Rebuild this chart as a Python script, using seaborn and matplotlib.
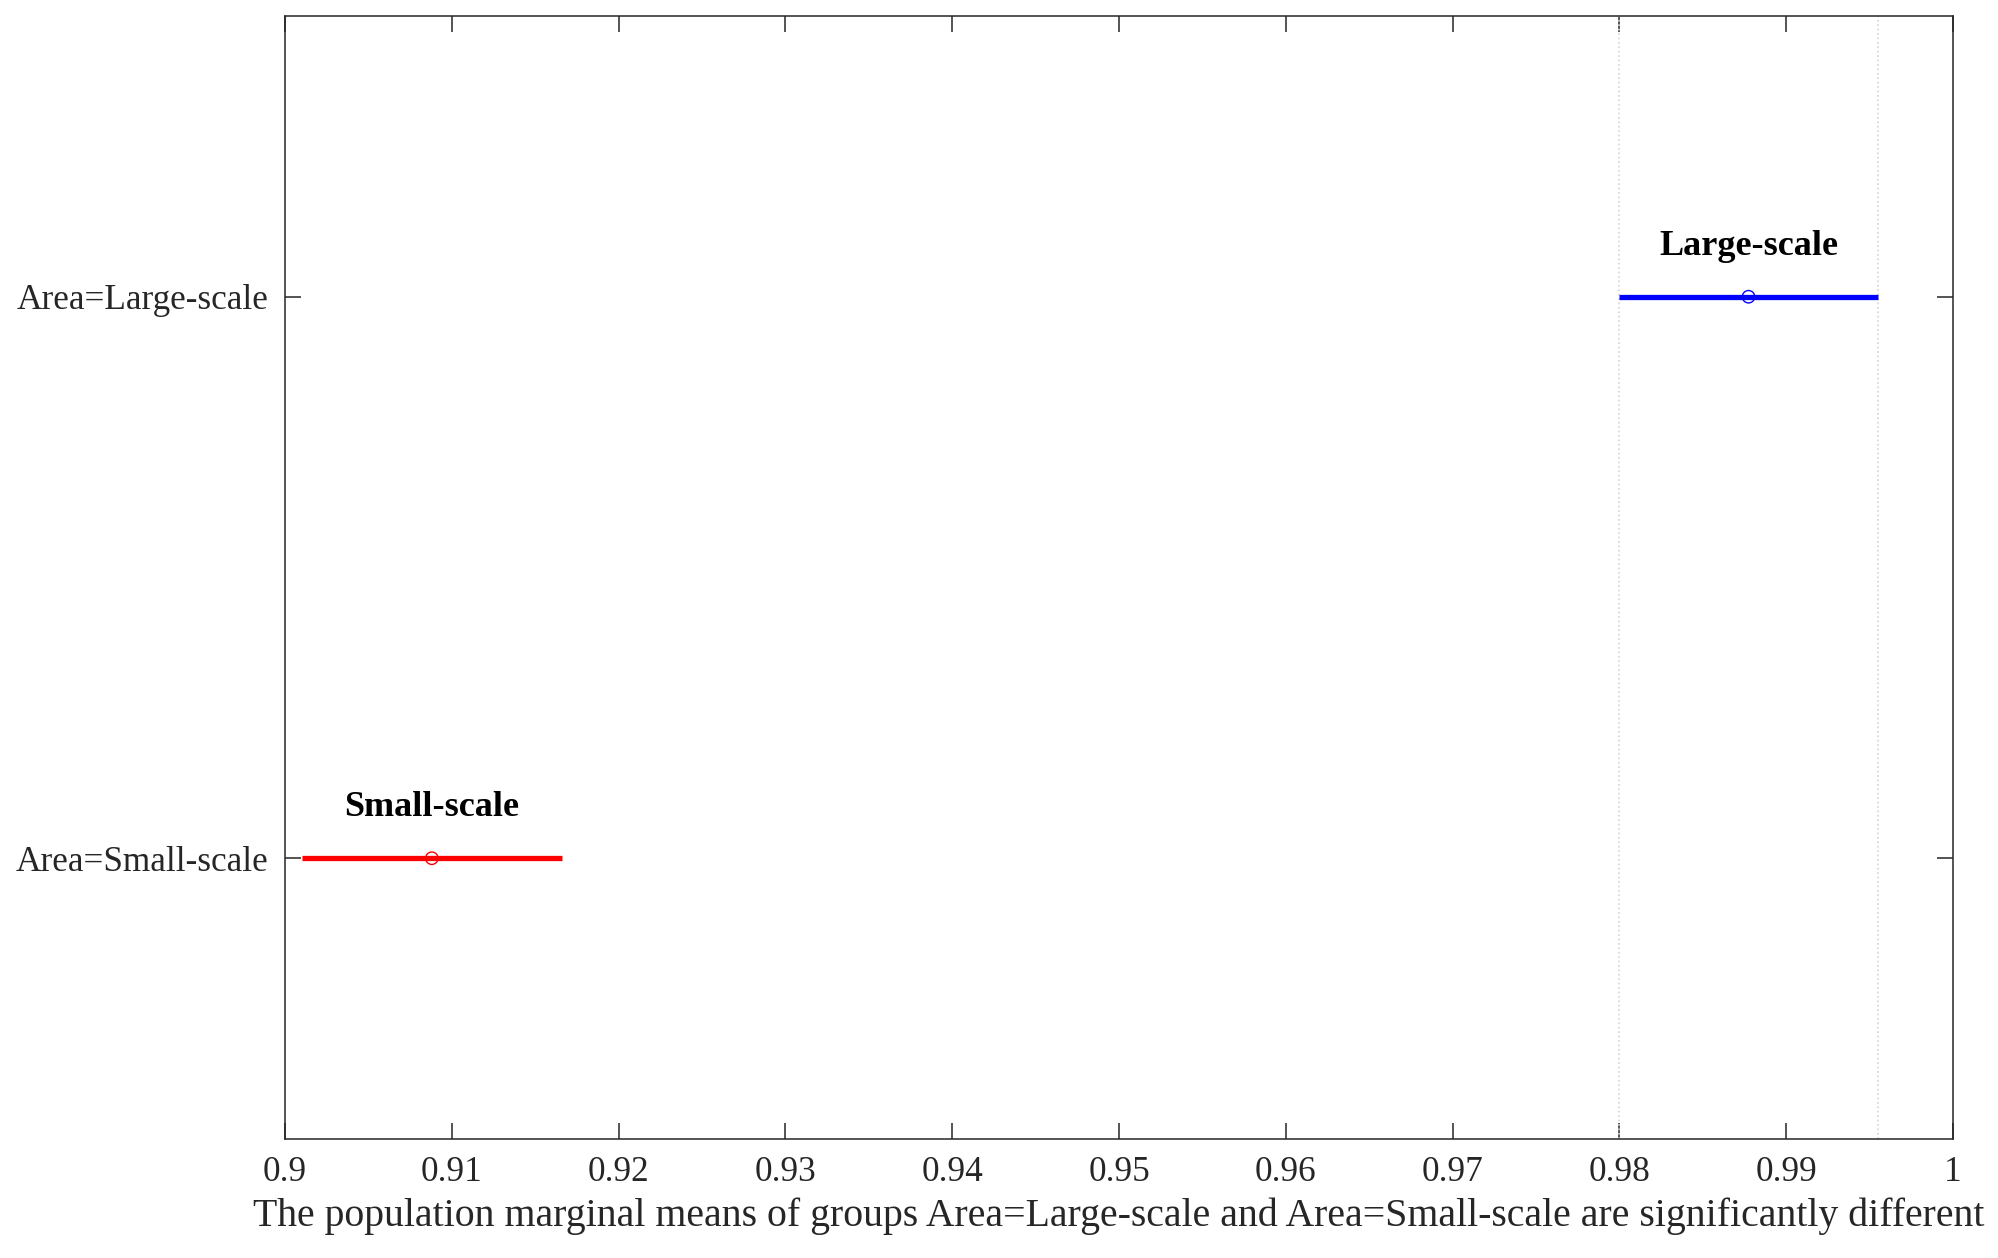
import seaborn as sns
import matplotlib.pyplot as plt
import numpy as np
import pandas as pd

# data (multcompare style interval plot)
groups = ["Large-scale", "Small-scale"]
group_pos = [1, 2]
means = [0.98774, 0.90880]
lower = [0.97997, 0.90104]
upper = [0.99552, 0.91658]
colors = ["#0000ff", "#ff0000"]
ytick_labels = ["Area=Large-scale", "Area=Small-scale"]
xticks = [0.9, 0.91, 0.92, 0.93, 0.94, 0.95, 0.96, 0.97, 0.98, 0.99, 1.0]
xtick_labels = ["0.9", "0.91", "0.92", "0.93", "0.94", "0.95", "0.96", "0.97", "0.98", "0.99", "1"]
xlabel = ("The population marginal means of groups Area=Large-scale and "
          "Area=Small-scale are significantly different")

df = pd.DataFrame({"group": groups, "pos": group_pos, "mean": means,
                   "lo": lower, "hi": upper})

sns.set_style("ticks")
plt.rcParams["font.family"] = ["Liberation Serif", "DejaVu Serif"]
plt.rcParams["axes.linewidth"] = 0.55
plt.rcParams["axes.edgecolor"] = "#262626"

fig = plt.figure(figsize=(9.995, 6.29), dpi=200)
ax = fig.add_axes([0.1426, 0.0946, 0.977 - 0.1426, 0.9873 - 0.0946])

# dotted reference lines at the bounds of the selected (first) group
for v in [lower[0], upper[0]]:
    ax.axvline(v, color="#d4d4d4", linestyle=":", linewidth=0.6, zorder=1)

# comparison intervals
for i, row in df.iterrows():
    ax.hlines(row["pos"], row["lo"], row["hi"], color=colors[i], linewidth=1.9, zorder=2)

sns.scatterplot(data=df, x="mean", y="pos", hue="group", palette=colors,
                marker="o", s=20, linewidth=0.5, legend=False, ax=ax, zorder=3)
# open circles
for coll in ax.collections:
    if len(coll.get_offsets()) == len(groups):
        coll.set_facecolor("none")
        coll.set_edgecolor(colors)

for i, row in df.iterrows():
    ax.text(row["mean"], row["pos"] - 0.09, row["group"], ha="center", va="center",
            fontsize=13, fontweight="bold", color="black")

ax.set_xlim(0.9, 1.0)
ax.set_ylim(2.5, 0.5)
ax.set_xticks(xticks)
ax.set_xticklabels(xtick_labels)
ax.set_yticks(group_pos)
ax.set_yticklabels(ytick_labels)
ax.tick_params(direction="in", length=5.8, width=0.55, top=True, right=True,
               labelsize=12.7, colors="#262626", pad=6)
ax.tick_params(axis="y", labelcolor="#262626")
ax.tick_params(axis="x", labelcolor="#262626")
ax.set_xlabel(xlabel, fontsize=14.3, color="#262626", labelpad=3)
ax.set_ylabel("")
for s in ax.spines.values():
    s.set_visible(True)

fig.savefig("out.png", dpi=200)
